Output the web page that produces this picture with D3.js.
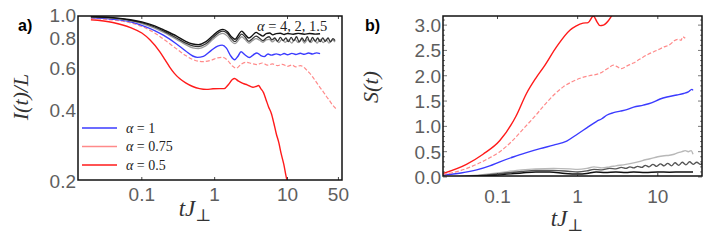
<!DOCTYPE html>
<html>
<head>
<meta charset="utf-8">
<script src="https://cdn.jsdelivr.net/npm/d3@7"></script>
<style>
  body { margin: 0; background: #fff; }
  svg { display: block; }
</style>
</head>
<body>
<div id="canvas"></div>
<script>
// ---- panel a) I(t)/L, pairs of [tJ, value] ----
const aAlpha4 = [[0.02,0.985],[0.04,0.975],[0.07,0.955],[0.1,0.935],[0.15,0.9],[0.2,0.865],[0.3,0.815],[0.4,0.775],[0.5,0.755],[0.6,0.75],[0.75,0.77],[0.95,0.82],[1.15,0.86],[1.3,0.87],[1.5,0.85],[1.7,0.81],[1.9,0.79],[2.1,0.82],[2.35,0.855],[2.6,0.83],[2.95,0.8],[3.3,0.82],[3.7,0.845],[4.1,0.83],[4.6,0.815],[5.1,0.835],[5.7,0.84],[6.3,0.825],[7,0.835],[8,0.838],[9,0.828],[10,0.836],[12,0.83],[14,0.837],[17,0.83],[20,0.836],[24,0.831],[28,0.834]];
const aAlpha2 = [[0.02,0.983],[0.04,0.972],[0.07,0.95],[0.1,0.928],[0.15,0.89],[0.2,0.855],[0.3,0.8],[0.4,0.762],[0.5,0.742],[0.6,0.737],[0.75,0.755],[0.95,0.805],[1.15,0.845],[1.3,0.855],[1.5,0.835],[1.7,0.795],[1.9,0.772],[2.1,0.8],[2.35,0.83],[2.6,0.81],[2.95,0.775],[3.3,0.795],[3.7,0.815],[4.1,0.8],[4.6,0.78],[5.1,0.8],[5.6,0.81],[6.1,0.785],[6.7,0.8],[7.3,0.775],[8,0.805],[8.7,0.78],[9.5,0.8],[10.3,0.772],[11.2,0.805],[12.2,0.778],[13.3,0.81],[14.5,0.77],[15.8,0.8],[17.2,0.775],[18.7,0.81],[20.3,0.77],[22,0.805],[24,0.775],[26,0.8],[28,0.772],[30.5,0.8],[33,0.775],[36,0.8],[39,0.77],[42,0.795],[45,0.78]];
const aAlpha15 = [[0.02,0.98],[0.04,0.968],[0.07,0.945],[0.1,0.92],[0.15,0.88],[0.2,0.845],[0.3,0.79],[0.4,0.75],[0.5,0.727],[0.6,0.722],[0.75,0.74],[0.95,0.79],[1.15,0.828],[1.3,0.837],[1.5,0.815],[1.7,0.775],[1.9,0.757],[2.1,0.78],[2.35,0.81],[2.6,0.79],[2.95,0.762],[3.3,0.78],[3.7,0.795],[4.1,0.785],[4.6,0.768],[5.1,0.785],[5.6,0.79],[6.2,0.77],[6.9,0.788],[7.6,0.765],[8.4,0.79],[9.3,0.768],[10.3,0.785],[11.4,0.762],[12.6,0.79],[14,0.765],[15.5,0.792],[17,0.762],[19,0.788],[21,0.765],[23,0.79],[25.5,0.762],[28,0.79],[31,0.765],[34,0.788],[37,0.762],[41,0.785],[45,0.77]];
const aAlpha1 = [[0.02,0.975],[0.04,0.96],[0.07,0.935],[0.1,0.905],[0.15,0.86],[0.2,0.82],[0.3,0.755],[0.4,0.705],[0.5,0.672],[0.58,0.663],[0.7,0.67],[0.9,0.71],[1.1,0.74],[1.27,0.747],[1.45,0.725],[1.65,0.675],[1.88,0.648],[2.1,0.672],[2.3,0.7],[2.6,0.68],[3.0,0.662],[3.4,0.68],[3.8,0.692],[4.3,0.675],[4.8,0.668],[5.4,0.685],[6,0.678],[7,0.686],[8,0.679],[9,0.688],[10,0.68],[11.5,0.689],[13,0.682],[15,0.69],[17,0.683],[19.5,0.692],[22,0.685],[25,0.693],[28,0.688]];
const aAlpha075 = [[0.02,0.965],[0.05,0.945],[0.1,0.895],[0.15,0.84],[0.2,0.79],[0.3,0.72],[0.4,0.675],[0.5,0.65],[0.69,0.636],[0.9,0.645],[1.1,0.66],[1.3,0.663],[1.5,0.645],[1.75,0.61],[1.98,0.597],[2.3,0.62],[2.7,0.632],[3.2,0.625],[3.8,0.618],[4.5,0.628],[5.3,0.615],[6.2,0.622],[7.3,0.612],[8.5,0.62],[10,0.608],[11.5,0.616],[13,0.605],[15,0.612],[16.5,0.605],[18,0.59],[20,0.57],[22,0.55],[25,0.52],[28,0.495],[31,0.475],[34,0.455],[37,0.44],[41,0.42],[46,0.404]];
const aAlpha05 = [[0.02,0.955],[0.04,0.93],[0.07,0.885],[0.1,0.84],[0.13,0.785],[0.177,0.70],[0.21,0.645],[0.24,0.605],[0.28,0.568],[0.33,0.54],[0.4,0.518],[0.5,0.5],[0.62,0.49],[0.77,0.486],[0.95,0.489],[1.17,0.49],[1.35,0.49],[1.55,0.51],[1.75,0.535],[1.88,0.54],[2.1,0.528],[2.44,0.515],[2.8,0.508],[3.35,0.496],[3.7,0.5],[4.0,0.505],[4.3,0.49],[4.7,0.47],[5.1,0.438],[5.5,0.41],[6.0,0.385],[6.5,0.35],[7.0,0.317],[7.6,0.29],[8.2,0.26],[8.9,0.235],[9.6,0.208],[10.2,0.195]];

// ---- panel b) S(t) ----
const bAlpha05 = [[0.021,0.07],[0.041,0.25],[0.066,0.45],[0.107,0.72],[0.17,1.2],[0.23,1.65],[0.3,1.95],[0.38,2.18],[0.55,2.58],[0.8,2.9],[0.95,2.98],[1.17,3.04],[1.35,3.05],[1.57,3.18],[1.75,3.06],[1.9,2.99],[2.1,3.0],[2.4,3.08],[2.7,3.2],[3.0,3.3]];
const bAlpha075 = [[0.021,0.05],[0.035,0.13],[0.055,0.25],[0.08,0.38],[0.107,0.5],[0.15,0.7],[0.21,0.95],[0.3,1.22],[0.41,1.47],[0.52,1.64],[0.66,1.78],[0.85,1.88],[1.07,1.95],[1.4,2.0],[1.9,2.05],[2.4,2.15],[2.8,2.21],[3.1,2.18],[3.5,2.14],[4.2,2.2],[4.95,2.25],[6,2.33],[7.5,2.42],[9.7,2.5],[12,2.57],[14.3,2.62],[16,2.69],[18,2.72],[19.5,2.7],[20.5,2.77],[22,2.74]];
const bAlpha1 = [[0.021,0.04],[0.035,0.08],[0.055,0.14],[0.08,0.22],[0.107,0.3],[0.16,0.4],[0.23,0.48],[0.34,0.56],[0.5,0.63],[0.73,0.71],[1.0,0.85],[1.3,0.97],[1.73,1.1],[2.0,1.15],[2.3,1.22],[2.8,1.27],[3.4,1.3],[4.1,1.33],[5.0,1.38],[6.6,1.42],[8.5,1.47],[10.7,1.54],[13,1.58],[17.3,1.62],[21,1.65],[24,1.68],[26.6,1.73],[27.5,1.71]];
const bAlpha15 = [[0.021,0.0],[0.05,0.03],[0.1,0.08],[0.2,0.14],[0.3,0.16],[0.5,0.17],[0.8,0.16],[1.0,0.15],[1.3,0.17],[1.6,0.2],[2,0.18],[2.5,0.2],[3,0.22],[4,0.25],[5,0.28],[6,0.31],[7,0.34],[8,0.36],[10,0.4],[12,0.42],[14,0.43],[16,0.45],[18,0.48],[20,0.5],[22,0.52],[24,0.5],[26,0.52],[27.5,0.45]];
const bAlpha2 = [[0.021,0],[0.05,0.02],[0.1,0.06],[0.2,0.11],[0.3,0.13],[0.5,0.13],[0.8,0.11],[1.0,0.1],[1.3,0.12],[1.6,0.15],[2,0.14],[2.5,0.17],[3,0.16],[3.5,0.19],[4,0.17],[4.5,0.2],[5,0.18],[5.6,0.21],[6.3,0.19],[7,0.23],[7.8,0.2],[8.7,0.25],[9.7,0.21],[10.8,0.26],[12,0.22],[13.3,0.27],[14.8,0.22],[16.4,0.28],[18.2,0.23],[20.2,0.29],[22.4,0.24],[24.9,0.3],[27.6,0.25],[30.6,0.29],[34,0.25],[36,0.27]];
const bAlpha4 = [[0.021,0],[0.05,0.015],[0.1,0.04],[0.2,0.08],[0.3,0.1],[0.45,0.1],[0.7,0.07],[1,0.06],[1.3,0.07],[1.7,0.1],[2.2,0.09],[3,0.1],[4,0.09],[5,0.1],[7,0.09],[10,0.1],[14,0.095],[20,0.1],[27.5,0.1]];

const aXTicks = [0.1, 1, 10, 50];
const aYTicks = [0.2, 0.4, 0.6, 0.8, 1.0];
const bXTicks = [0.1, 1, 10];
const bYTicks = [0, 0.5, 1, 1.5, 2, 2.5, 3];
const legendLabels = ["1", "0.75", "0.5"];

const colors = { red: "#ff1a1a", pink: "#ff8a8a", blue: "#3b3bff", black: "#111", dark: "#555", gray: "#999", light: "#b8b8b8" };

const svg = d3.select("#canvas").append("svg")
    .attr("width", 706).attr("height", 247);

const tickFont = "Liberation Sans, Arial, sans-serif";
const serif = "Liberation Serif, DejaVu Serif, serif";
const tickColor = "#5e5e5e";

function panel(id, box) {
    svg.append("clipPath").attr("id", id)
        .append("rect").attr("x", box.l).attr("y", box.t)
        .attr("width", box.r - box.l).attr("height", box.b - box.t);
    return svg.append("g").attr("clip-path", `url(#${id})`);
}

function drawLine(g, x, y, data, color, width, dash) {
    const line = d3.line().x(d => x(d[0])).y(d => y(d[1])).curve(d3.curveMonotoneX);
    g.append("path").datum(data)
        .attr("d", line)
        .attr("fill", "none")
        .attr("stroke", color)
        .attr("stroke-width", width)
        .attr("stroke-dasharray", dash || null);
}

// ================= panel a =================
const boxA = { l: 78, r: 342, t: 16, b: 180 };
const xA = d3.scaleLog().domain([0.0133, 56]).range([boxA.l, boxA.r]);
const yA = d3.scaleLog().domain([0.2, 1.0]).range([181, 15]);

const gA = panel("clipA", boxA);
drawLine(gA, xA, yA, aAlpha05, colors.red, 1.4);
drawLine(gA, xA, yA, aAlpha075, colors.pink, 1.2, "4,2");
drawLine(gA, xA, yA, aAlpha1, colors.blue, 1.4);
drawLine(gA, xA, yA, aAlpha15, colors.gray, 1.3);
drawLine(gA, xA, yA, aAlpha2, "#333", 1.3);
drawLine(gA, xA, yA, aAlpha4, colors.black, 1.4);

// ticks a
const axA = svg.append("g");
aXTicks.forEach(t => {
    axA.append("line").attr("x1", xA(t)).attr("x2", xA(t))
        .attr("y1", boxA.b).attr("y2", boxA.b - 3).attr("stroke", "#444");
    axA.append("line").attr("x1", xA(t)).attr("x2", xA(t))
        .attr("y1", boxA.t).attr("y2", boxA.t + 3).attr("stroke", "#444");
    axA.append("text").attr("x", xA(t)).attr("y", 201)
        .attr("text-anchor", "middle").attr("font-family", tickFont)
        .attr("font-size", 19).attr("fill", tickColor).text(t);
});
aYTicks.forEach(v => {
    axA.append("text").attr("x", 76).attr("y", yA(v) + 7)
        .attr("text-anchor", "end").attr("font-family", tickFont)
        .attr("font-size", 19).attr("fill", tickColor).text(d3.format(".1f")(v));
});
axA.append("rect").attr("x", boxA.l).attr("y", boxA.t)
    .attr("width", boxA.r - boxA.l).attr("height", boxA.b - boxA.t)
    .attr("fill", "none").attr("stroke", "#111").attr("stroke-width", 1.5);

// legend a
const legColors = [colors.blue, colors.pink, colors.red];
legendLabels.forEach((lab, i) => {
    const ly = 128 + i * 18.5;
    axA.append("line").attr("x1", 82).attr("x2", 117).attr("y1", ly).attr("y2", ly)
        .attr("stroke", legColors[i]).attr("stroke-width", 1.6);
    const tx = axA.append("text").attr("x", 126).attr("y", ly + 4.5)
        .attr("font-family", serif).attr("font-size", 14).attr("fill", "#222");
    tx.append("tspan").attr("font-style", "italic").text("α");
    tx.append("tspan").text(" = " + lab);
});
const ann = axA.append("text").attr("x", 257).attr("y", 31)
    .attr("font-family", serif).attr("font-size", 14.5).attr("fill", "#222");
ann.append("tspan").attr("font-style", "italic").text("α");
ann.append("tspan").text(" = 4, 2, 1.5");

// labels a
axA.append("text").attr("x", 18).attr("y", 31)
    .attr("font-family", tickFont).attr("font-weight", "bold")
    .attr("font-size", 16).attr("fill", "#000").text("a)");
axA.append("text")
    .attr("transform", "translate(28,97) rotate(-90)")
    .attr("text-anchor", "middle").attr("font-family", serif)
    .attr("font-style", "italic").attr("font-size", 22).attr("fill", "#333")
    .text("I(t)/L");
const xlA = axA.append("text").attr("x", 195).attr("y", 216)
    .attr("text-anchor", "middle").attr("font-family", serif)
    .attr("font-size", 23).attr("fill", "#333");
xlA.append("tspan").attr("font-style", "italic").text("tJ");
xlA.append("tspan").attr("dy", 5).attr("font-size", 17).text("⊥");

// ================= panel b =================
const boxB = { l: 443, r: 702, t: 16, b: 176 };
const xB = d3.scaleLog().domain([0.0209, 35.6]).range([boxB.l, boxB.r]);
const yB = d3.scaleLinear().domain([0, 3.18]).range([177, 16]);

const gB = panel("clipB", boxB);
drawLine(gB, xB, yB, bAlpha15, colors.light, 1.4);
drawLine(gB, xB, yB, bAlpha2, colors.dark, 1.4);
drawLine(gB, xB, yB, bAlpha4, colors.black, 1.4);
drawLine(gB, xB, yB, bAlpha1, colors.blue, 1.4);
drawLine(gB, xB, yB, bAlpha075, colors.pink, 1.2, "4,2");
drawLine(gB, xB, yB, bAlpha05, colors.red, 1.4);

const axB = svg.append("g");
// minor ticks on both side edges
d3.range(0, 3.15, 0.1).forEach(v => {
    const major = Math.abs(v * 2 - Math.round(v * 2)) < 1e-6;
    axB.append("line").attr("x1", boxB.r).attr("x2", boxB.r - (major ? 4 : 2))
        .attr("y1", yB(v)).attr("y2", yB(v)).attr("stroke", "#555").attr("stroke-width", 0.8);
    axB.append("line").attr("x1", boxB.l).attr("x2", boxB.l + (major ? 4 : 2))
        .attr("y1", yB(v)).attr("y2", yB(v)).attr("stroke", "#555").attr("stroke-width", 0.8);
});
bXTicks.forEach(t => {
    axB.append("line").attr("x1", xB(t)).attr("x2", xB(t))
        .attr("y1", boxB.b).attr("y2", boxB.b - 3).attr("stroke", "#444");
    axB.append("line").attr("x1", xB(t)).attr("x2", xB(t))
        .attr("y1", boxB.t).attr("y2", boxB.t + 3).attr("stroke", "#444");
    axB.append("text").attr("x", xB(t)).attr("y", 203)
        .attr("text-anchor", "middle").attr("font-family", tickFont)
        .attr("font-size", 19).attr("fill", tickColor).text(t);
});
bYTicks.forEach(v => {
    axB.append("text").attr("x", 441).attr("y", yB(v) + 7)
        .attr("text-anchor", "end").attr("font-family", tickFont)
        .attr("font-size", 19).attr("fill", tickColor).text(d3.format(".1f")(v));
});
axB.append("rect").attr("x", boxB.l).attr("y", boxB.t)
    .attr("width", boxB.r - boxB.l).attr("height", boxB.b - boxB.t)
    .attr("fill", "none").attr("stroke", "#111").attr("stroke-width", 1.5);

axB.append("text").attr("x", 365).attr("y", 31)
    .attr("font-family", tickFont).attr("font-weight", "bold")
    .attr("font-size", 16).attr("fill", "#000").text("b)");
axB.append("text")
    .attr("transform", "translate(378,87) rotate(-90)")
    .attr("text-anchor", "middle").attr("font-family", serif)
    .attr("font-style", "italic").attr("font-size", 22).attr("fill", "#333")
    .text("S(t)");
const xlB = axB.append("text").attr("x", 567).attr("y", 226)
    .attr("text-anchor", "middle").attr("font-family", serif)
    .attr("font-size", 23).attr("fill", "#333");
xlB.append("tspan").attr("font-style", "italic").text("tJ");
xlB.append("tspan").attr("dy", 5).attr("font-size", 17).text("⊥");
</script>
</body>
</html>
